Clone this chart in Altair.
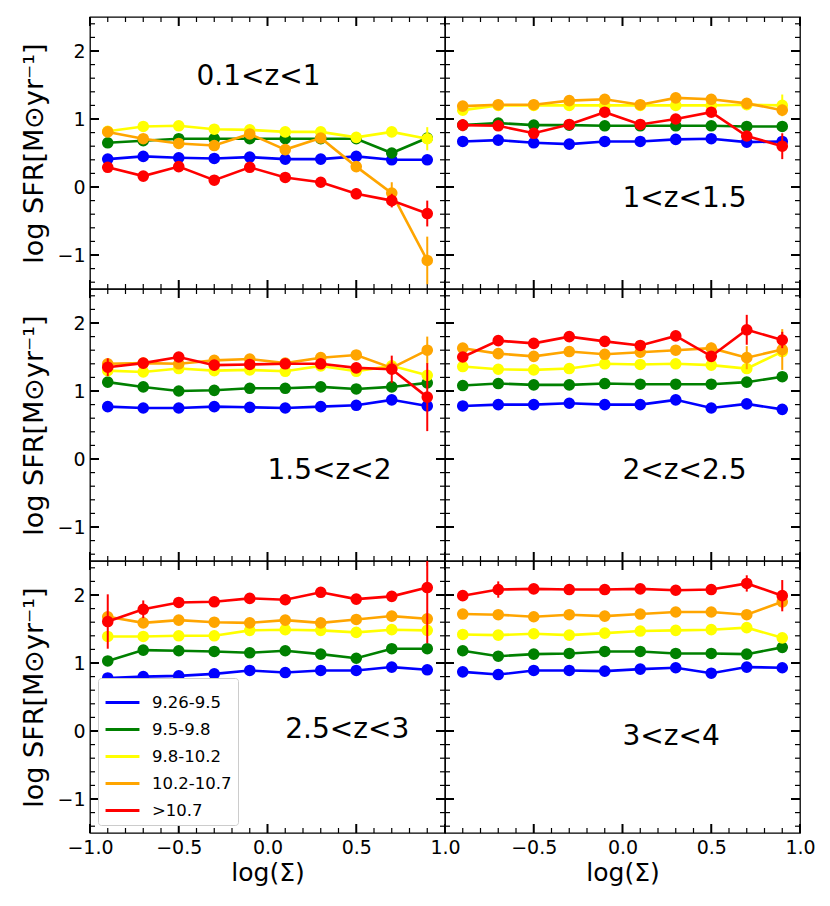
import altair as alt
import pandas as pd

# ---------------- data ----------------
X_POS = [-0.9, -0.7, -0.5, -0.3, -0.1, 0.1, 0.3, 0.5, 0.7, 0.9]
MASS_BINS = ["9.26-9.5", "9.5-9.8", "9.8-10.2", "10.2-10.7", ">10.7"]
COLORS = ["blue", "green", "yellow", "orange", "red"]
Z_LABELS = ["0.1<z<1", "1<z<1.5", "1.5<z<2", "2<z<2.5", "2.5<z<3", "3<z<4"]

# log SFR, rows follow MASS_BINS
sfr_z0 = [
    [0.41, 0.45, 0.43, 0.42, 0.44, 0.41, 0.41, 0.45, 0.40, 0.40],
    [0.65, 0.68, 0.71, 0.71, 0.71, 0.71, 0.71, 0.71, 0.50, 0.72],
    [0.82, 0.89, 0.90, 0.85, 0.84, 0.81, 0.81, 0.73, 0.81, 0.71],
    [0.81, 0.71, 0.64, 0.61, 0.78, 0.55, 0.72, 0.30, -0.09, -1.08],
    [0.29, 0.16, 0.30, 0.10, 0.29, 0.14, 0.07, -0.10, -0.20, -0.39],
]
err_z0 = [
    [0.03, 0.03, 0.03, 0.03, 0.03, 0.03, 0.03, 0.03, 0.03, 0.04],
    [0.03, 0.03, 0.03, 0.03, 0.03, 0.03, 0.03, 0.03, 0.04, 0.06],
    [0.03, 0.03, 0.03, 0.03, 0.03, 0.03, 0.03, 0.03, 0.04, 0.17],
    [0.03, 0.03, 0.03, 0.03, 0.03, 0.03, 0.04, 0.05, 0.16, 0.35],
    [0.03, 0.03, 0.03, 0.03, 0.03, 0.03, 0.04, 0.08, 0.10, 0.19],
]
sfr_z1 = [
    [0.67, 0.69, 0.65, 0.63, 0.67, 0.67, 0.70, 0.71, 0.66, 0.67],
    [0.91, 0.94, 0.91, 0.91, 0.90, 0.90, 0.90, 0.90, 0.89, 0.89],
    [1.13, 1.20, 1.20, 1.20, 1.20, 1.20, 1.20, 1.20, 1.21, 1.20],
    [1.19, 1.21, 1.21, 1.27, 1.29, 1.21, 1.31, 1.29, 1.23, 1.13],
    [0.91, 0.90, 0.79, 0.92, 1.10, 0.92, 1.00, 1.10, 0.75, 0.60],
]
err_z1 = [
    [0.03, 0.03, 0.03, 0.03, 0.03, 0.03, 0.03, 0.03, 0.03, 0.04],
    [0.03, 0.03, 0.03, 0.03, 0.03, 0.03, 0.03, 0.03, 0.03, 0.04],
    [0.03, 0.03, 0.03, 0.03, 0.03, 0.03, 0.03, 0.03, 0.05, 0.16],
    [0.03, 0.03, 0.03, 0.03, 0.03, 0.03, 0.03, 0.03, 0.05, 0.08],
    [0.09, 0.04, 0.04, 0.04, 0.04, 0.04, 0.04, 0.05, 0.06, 0.19],
]
sfr_z2 = [
    [0.77, 0.75, 0.75, 0.77, 0.76, 0.75, 0.77, 0.79, 0.87, 0.78],
    [1.13, 1.06, 1.00, 1.01, 1.04, 1.04, 1.06, 1.03, 1.06, 1.12],
    [1.30, 1.28, 1.33, 1.30, 1.31, 1.29, 1.37, 1.29, 1.37, 1.23],
    [1.40, 1.41, 1.40, 1.45, 1.47, 1.41, 1.49, 1.53, 1.34, 1.60],
    [1.35, 1.41, 1.50, 1.38, 1.39, 1.40, 1.40, 1.34, 1.32, 0.91],
]
err_z2 = [
    [0.03, 0.03, 0.03, 0.03, 0.03, 0.03, 0.03, 0.03, 0.03, 0.04],
    [0.03, 0.03, 0.03, 0.03, 0.03, 0.03, 0.03, 0.03, 0.03, 0.04],
    [0.03, 0.03, 0.03, 0.03, 0.03, 0.03, 0.03, 0.03, 0.05, 0.06],
    [0.03, 0.03, 0.03, 0.03, 0.03, 0.03, 0.03, 0.04, 0.06, 0.20],
    [0.13, 0.04, 0.04, 0.04, 0.04, 0.04, 0.04, 0.05, 0.20, 0.50],
]
sfr_z3 = [
    [0.78, 0.80, 0.80, 0.82, 0.80, 0.80, 0.87, 0.75, 0.81, 0.73],
    [1.08, 1.11, 1.09, 1.09, 1.11, 1.10, 1.10, 1.10, 1.13, 1.21],
    [1.36, 1.32, 1.31, 1.33, 1.40, 1.39, 1.40, 1.38, 1.33, 1.58],
    [1.63, 1.55, 1.51, 1.58, 1.54, 1.57, 1.60, 1.63, 1.49, 1.61],
    [1.50, 1.74, 1.70, 1.80, 1.73, 1.67, 1.81, 1.51, 1.90, 1.75],
]
err_z3 = [
    [0.03, 0.03, 0.03, 0.03, 0.03, 0.03, 0.03, 0.03, 0.03, 0.04],
    [0.03, 0.03, 0.03, 0.03, 0.03, 0.03, 0.03, 0.03, 0.04, 0.05],
    [0.03, 0.03, 0.03, 0.03, 0.03, 0.03, 0.03, 0.04, 0.05, 0.08],
    [0.03, 0.03, 0.03, 0.03, 0.03, 0.03, 0.04, 0.08, 0.17, 0.30],
    [0.04, 0.04, 0.04, 0.04, 0.04, 0.04, 0.05, 0.06, 0.22, 0.12],
]
sfr_z4 = [
    [0.78, 0.80, 0.81, 0.84, 0.89, 0.86, 0.89, 0.89, 0.94, 0.90],
    [1.03, 1.19, 1.18, 1.17, 1.15, 1.18, 1.13, 1.07, 1.21, 1.21],
    [1.39, 1.39, 1.40, 1.40, 1.48, 1.49, 1.48, 1.45, 1.49, 1.48],
    [1.68, 1.59, 1.63, 1.60, 1.59, 1.63, 1.59, 1.64, 1.69, 1.65],
    [1.61, 1.79, 1.89, 1.90, 1.95, 1.93, 2.04, 1.94, 1.98, 2.11],
]
err_z4 = [
    [0.03, 0.03, 0.03, 0.03, 0.03, 0.03, 0.03, 0.03, 0.03, 0.04],
    [0.04, 0.03, 0.03, 0.03, 0.03, 0.03, 0.03, 0.03, 0.04, 0.05],
    [0.04, 0.03, 0.03, 0.03, 0.03, 0.03, 0.03, 0.03, 0.04, 0.05],
    [0.06, 0.04, 0.04, 0.04, 0.04, 0.04, 0.04, 0.04, 0.05, 0.07],
    [0.40, 0.13, 0.05, 0.05, 0.05, 0.05, 0.05, 0.06, 0.07, 0.82],
]
sfr_z5 = [
    [0.87, 0.83, 0.89, 0.89, 0.88, 0.91, 0.93, 0.85, 0.94, 0.93],
    [1.18, 1.10, 1.13, 1.14, 1.17, 1.17, 1.14, 1.14, 1.13, 1.23],
    [1.42, 1.41, 1.43, 1.41, 1.44, 1.47, 1.48, 1.49, 1.52, 1.37],
    [1.72, 1.71, 1.68, 1.71, 1.69, 1.72, 1.75, 1.75, 1.71, 1.90],
    [1.99, 2.08, 2.09, 2.08, 2.08, 2.09, 2.07, 2.08, 2.17, 1.99],
]
err_z5 = [
    [0.03, 0.03, 0.03, 0.03, 0.03, 0.03, 0.03, 0.03, 0.03, 0.04],
    [0.03, 0.03, 0.03, 0.03, 0.03, 0.03, 0.03, 0.03, 0.04, 0.05],
    [0.03, 0.03, 0.03, 0.03, 0.03, 0.03, 0.03, 0.03, 0.04, 0.05],
    [0.03, 0.03, 0.03, 0.03, 0.03, 0.03, 0.03, 0.04, 0.05, 0.10],
    [0.04, 0.12, 0.05, 0.05, 0.05, 0.05, 0.05, 0.05, 0.12, 0.23],
]

X_MAJOR = [-1.0, -0.5, 0.0, 0.5, 1.0]
X_MINOR = [-0.9, -0.8, -0.7, -0.6, -0.4, -0.3, -0.2, -0.1,
           0.1, 0.2, 0.3, 0.4, 0.6, 0.7, 0.8, 0.9]
Y_MAJOR = [-1.0, 0.0, 1.0, 2.0]
Y_MINOR = [-1.4, -1.2, -0.8, -0.6, -0.4, -0.2, 0.2, 0.4, 0.6, 0.8,
           1.2, 1.4, 1.6, 1.8, 2.2, 2.4]

# ---------------- style ----------------
W, H = 355, 272
FONT = "DejaVu Sans"
MAJ, MIN = 9, 5
XS = alt.Scale(domain=[-1, 1], nice=False, zero=False)
YS = alt.Scale(domain=[-1.5, 2.5], nice=False, zero=False, clamp=True)
CS = alt.Scale(domain=MASS_BINS, range=COLORS)
YTITLE = "log SFR[M\u2299yr\u207b\u00b9]"


def make_panel(sfr, err, label, lx, ly, left, bottom, legend):
    if bottom:
        xax = alt.Axis(values=X_MAJOR if left else X_MAJOR[1:], format=".1f",
                       ticks=False, tickSize=0, domain=False, grid=False,
                       labelFlush=False, labelOverlap=False,
                       labelFont=FONT, labelFontSize=19, labelColor="black",
                       labelPadding=5, titleFont=FONT, titleFontSize=25,
                       titleFontWeight="normal", titleColor="black",
                       titlePadding=3)
    else:
        xax = None
    if left:
        yax = alt.Axis(values=Y_MAJOR, format="d", ticks=False, tickSize=0,
                       domain=False, grid=False, labelFont=FONT,
                       labelFontSize=19, labelColor="black", labelPadding=5,
                       titleFont=FONT, titleFontSize=27,
                       titleFontWeight="normal", titleColor="black",
                       titlePadding=8)
    else:
        yax = None

    def X(f="x"):
        return alt.X(f"{f}:Q", scale=XS, axis=xax, title="log(\u03a3)")

    def Y(f="y"):
        return alt.Y(f"{f}:Q", scale=YS, axis=yax, title=YTITLE)

    layers = []
    # inward ticks on all four sides
    for vals, ln, sw in [(X_MAJOR, MAJ, 2), (X_MINOR, MIN, 1.2)]:
        tdf = pd.DataFrame({"x": vals})
        tb = alt.Chart(tdf)
        layers.append(tb.mark_rule(color="black", strokeWidth=sw).encode(
            x=X(), y=alt.value(H), y2=alt.value(H - ln)))
        layers.append(tb.mark_rule(color="black", strokeWidth=sw).encode(
            x=X(), y=alt.value(0), y2=alt.value(ln)))
    for vals, ln, sw in [(Y_MAJOR, MAJ, 2), (Y_MINOR, MIN, 1.2)]:
        tdf = pd.DataFrame({"y": vals})
        tb = alt.Chart(tdf)
        layers.append(tb.mark_rule(color="black", strokeWidth=sw).encode(
            y=Y(), x=alt.value(0), x2=alt.value(ln)))
        layers.append(tb.mark_rule(color="black", strokeWidth=sw).encode(
            y=Y(), x=alt.value(W), x2=alt.value(W - ln)))

    if legend:
        leg = alt.Legend(title=None, orient="bottom-left", offset=8,
                         symbolType="stroke", symbolStrokeWidth=3,
                         symbolSize=1150, labelFont=FONT, labelFontSize=16.5,
                         labelColor="black", labelOffset=11,
                         fillColor="white", strokeColor="#cccccc",
                         cornerRadius=3, padding=6, rowPadding=0)
    else:
        leg = None

    for s in range(len(MASS_BINS)):
        df = pd.DataFrame({
            "x": X_POS,
            "y": sfr[s],
            "lo": [v - e for v, e in zip(sfr[s], err[s])],
            "hi": [v + e for v, e in zip(sfr[s], err[s])],
            "bin": MASS_BINS[s],
        })
        b = alt.Chart(df)
        c = COLORS[s]
        layers.append(b.mark_rule(color=c, strokeWidth=2).encode(
            x=X(), y=Y("lo"), y2="hi:Q"))
        layers.append(b.mark_line(strokeWidth=2.6).encode(
            x=X(), y=Y("y"),
            color=alt.Color("bin:N", scale=CS, legend=leg)))
        layers.append(b.mark_circle(size=135, color=c, opacity=1).encode(
            x=X(), y=Y("y")))

    ldf = pd.DataFrame({"x": [lx], "y": [ly], "t": [label]})
    layers.append(alt.Chart(ldf).mark_text(
        align="left", baseline="alphabetic", font=FONT, fontSize=28,
        color="black").encode(x=X(), y=Y(), text="t:N"))

    return alt.layer(*layers).properties(width=W, height=H)


p0 = make_panel(sfr_z0, err_z0, Z_LABELS[0], -0.4, 1.5, True, False, False)
p1 = make_panel(sfr_z1, err_z1, Z_LABELS[1], 0.0, -0.3, False, False, False)
p2 = make_panel(sfr_z2, err_z2, Z_LABELS[2], 0.0, -0.3, True, False, False)
p3 = make_panel(sfr_z3, err_z3, Z_LABELS[3], 0.0, -0.3, False, False, False)
p4 = make_panel(sfr_z4, err_z4, Z_LABELS[4], 0.1, -0.1, True, True, True)
p5 = make_panel(sfr_z5, err_z5, Z_LABELS[5], 0.0, -0.2, False, True, False)

chart = alt.concat(p0, p1, p2, p3, p4, p5, columns=2, spacing=0,
                   bounds="flush").resolve_scale(
    color="independent"
).properties(
    padding={"left": 12, "top": 7, "right": 5, "bottom": 5},
    background="white",
).configure_view(stroke="black", strokeWidth=1.3)

chart.save("out.html", embed_options={"renderer": "svg", "actions": False})
